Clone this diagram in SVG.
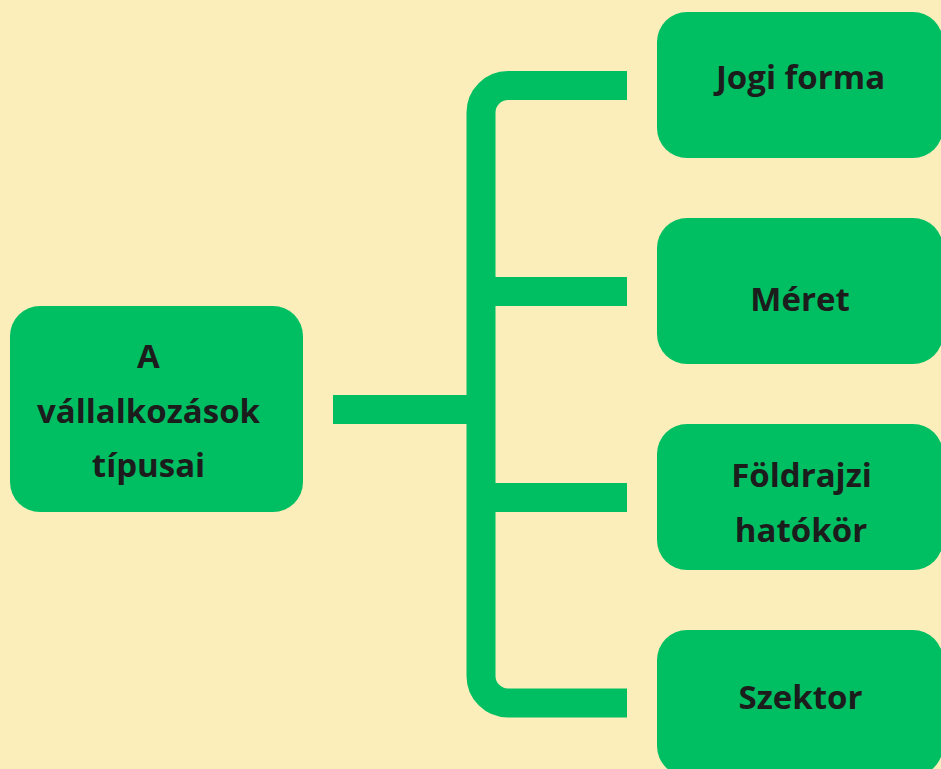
<svg xmlns="http://www.w3.org/2000/svg" width="941" height="769" viewBox="0 0 941 769">
<style>
.box{fill:#00BF63}
.lbl{font-family:"Open Sans","Noto Sans","DejaVu Sans",sans-serif;font-weight:700;font-size:33px;fill:#1C1C1C;text-anchor:middle}
.conn{fill:none;stroke:#00BF63;stroke-width:29}
</style>
<rect width="941" height="769" fill="#FBEEBB"/>
<g id="connectors">
<path class="conn" d="M333,409.5 H481"/>
<path class="conn" d="M627,85.5 H508 A27,27 0 0 0 481,112.5 V676 A27,27 0 0 0 508,703 H627"/>
<path class="conn" d="M481,291.5 H627"/>
<path class="conn" d="M481,497.5 H627"/>
</g>
<g id="root">
<rect class="box" x="10" y="306" width="293" height="206" rx="30"/>
<text class="lbl" x="148.5" y="368">A</text>
<text class="lbl" x="148.5" y="423">vállalkozások</text>
<text class="lbl" x="148.5" y="477">típusai</text>
</g>
<g id="jogi">
<rect class="box" x="657" y="12" width="286" height="146" rx="30"/>
<text class="lbl" x="800.5" y="89">Jogi forma</text>
</g>
<g id="meret">
<rect class="box" x="657" y="218" width="286" height="146" rx="30"/>
<text class="lbl" x="800" y="311">Méret</text>
</g>
<g id="foldrajzi">
<rect class="box" x="657" y="424" width="286" height="146" rx="30"/>
<text class="lbl" x="801.5" y="487">Földrajzi</text>
<text class="lbl" x="801" y="542">hatókör</text>
</g>
<g id="szektor">
<rect class="box" x="657" y="630" width="286" height="146" rx="30"/>
<text class="lbl" x="800.5" y="709">Szektor</text>
</g>
</svg>
